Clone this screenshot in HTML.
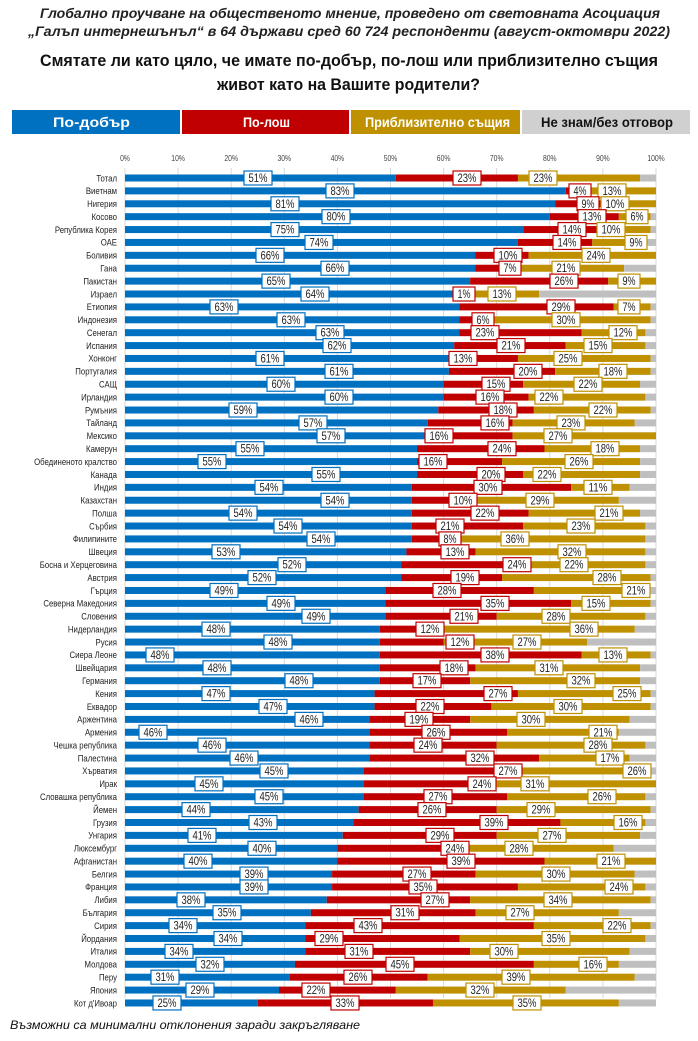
<!DOCTYPE html>
<html><head><meta charset="utf-8">
<style>
html,body{margin:0;padding:0;background:#fff;width:698px;height:1041px;overflow:hidden}
svg{display:block}
text{font-family:"Liberation Sans Narrow","Liberation Sans","DejaVu Sans Condensed",sans-serif}
</style></head><body>
<svg id="s" width="698" height="1041" viewBox="0 0 698 1041" xmlns="http://www.w3.org/2000/svg">
<text x="40" y="18" textLength="620" lengthAdjust="spacingAndGlyphs" font-size="14" font-weight="bold" font-style="italic" fill="#222">Глобално проучване на общественото мнение, проведено от световната Асоциация</text>
<text x="28" y="36" textLength="642" lengthAdjust="spacingAndGlyphs" font-size="14" font-weight="bold" font-style="italic" fill="#222">„Галъп интернешънъл“ в 64 държави сред 60 724 респонденти (август-октомври 2022)</text>
<text x="40" y="66" textLength="618" lengthAdjust="spacingAndGlyphs" font-size="17" font-weight="bold" fill="#111">Смятате ли като цяло, че имате по-добър, по-лош или приблизително същия</text>
<text x="217" y="90" textLength="263" lengthAdjust="spacingAndGlyphs" font-size="17" font-weight="bold" fill="#111">живот като на Вашите родители?</text>
<rect x="12" y="110" width="168" height="24" fill="#0070c0"/>
<rect x="182" y="110" width="167" height="24" fill="#c00000"/>
<rect x="351" y="110" width="169" height="24" fill="#bf9000"/>
<rect x="522" y="110" width="168" height="24" fill="#d0d0d0"/>
<text x="53" y="127" textLength="77" lengthAdjust="spacingAndGlyphs" font-size="14" font-weight="bold" fill="#fff">По-добър</text>
<text x="243" y="127" textLength="47" lengthAdjust="spacingAndGlyphs" font-size="14" font-weight="bold" fill="#fff">По-лош</text>
<text x="365" y="127" textLength="145" lengthAdjust="spacingAndGlyphs" font-size="14" font-weight="bold" fill="#fff">Приблизително същия</text>
<text x="541" y="127" textLength="132" lengthAdjust="spacingAndGlyphs" font-size="14" font-weight="bold" fill="#111">Не знам/без отговор</text>
<text x="10" y="1029" textLength="350" lengthAdjust="spacingAndGlyphs" font-size="12" font-style="italic" fill="#111">Възможни са минимални отклонения заради закръгляване</text>
<g id="g"></g>
</svg>
<script>
var D=[
["Тотал",51,23,23,258,467,543],["Виетнам",83,4,13,340,580,612],["Нигерия",81,9,10,285,588,615],["Косово",80,13,6,336,592,637],
["Република Корея",75,14,10,285,572,611],["ОАЕ",74,14,9,319,567,636],["Боливия",66,10,24,270,508,596],["Гана",66,7,21,335,510,566],
["Пакистан",65,26,9,276,564,629],["Израел",64,1,13,315,464,502],["Етиопия",63,29,7,224,561,629],["Индонезия",63,6,30,291,483,566],
["Сенегал",63,23,12,330,485,623],["Испания",62,21,15,337,511,598],["Хонконг",61,13,25,270,463,568],["Португалия",61,20,18,339,528,613],
["САЩ",60,15,22,281,496,588],["Ирландия",60,16,22,339,490,549],["Румъния",59,18,22,243,503,603],["Тайланд",57,16,23,313,495,571],
["Мексико",57,16,27,331,439,558],["Камерун",55,24,18,250,502,605],["Обединеното кралство",55,16,26,212,433,579],["Канада",55,20,22,326,491,547],
["Индия",54,30,11,269,488,598],["Казахстан",54,10,29,335,463,540],["Полша",54,22,21,243,485,609],["Сърбия",54,21,23,288,450,581],
["Филипините",54,8,36,321,450,515],["Швеция",53,13,32,226,455,572],["Босна и Херцеговина",52,24,22,292,517,574],["Австрия",52,19,28,262,465,607],
["Гърция",49,28,21,224,447,636],["Северна Македония",49,35,15,281,495,596],["Словения",49,21,28,316,464,556],["Нидерландия",48,12,36,216,430,584],
["Русия",48,12,27,278,460,527],["Сиера Леоне",48,38,13,160,495,613],["Швейцария",48,18,31,217,454,549],["Германия",48,17,32,299,427,581],
["Кения",47,27,25,216,498,627],["Еквадор",47,22,30,273,430,568],["Аржентина",46,19,30,309,419,531],["Армения",46,26,21,153,436,603],
["Чешка република",46,24,28,212,428,598],["Палестина",46,32,17,244,480,610],["Хърватия",45,27,26,274,508,637],["Ирак",45,24,31,209,482,535],
["Словашка република",45,27,26,269,438,602],["Йемен",44,26,29,196,432,541],["Грузия",43,39,16,263,494,628],["Унгария",41,29,27,202,440,552],
["Люксембург",40,24,28,262,455,519],["Афганистан",40,39,21,198,461,611],["Белгия",39,27,30,254,417,556],["Франция",39,35,24,254,423,619],
["Либия",38,27,34,191,435,558],["България",35,31,27,227,405,520],["Сирия",34,43,22,183,368,617],["Йордания",34,29,35,228,329,556],
["Италия",34,31,30,179,359,504],["Молдова",32,45,16,210,400,593],["Перу",31,26,39,165,358,516],["Япония",29,22,32,200,316,480],
["Кот д'Ивоар",25,33,35,167,345,527]];
var x0=125,sc=5.31,y0=178,p=12.89,h="";
for(var t=0;t<=10;t++){var x=x0+t*10*sc;h+='<line x1="'+x+'" y1="168" x2="'+x+'" y2="998" stroke="#d9d9d9" stroke-width="1"/>';
h+='<text x="'+x+'" y="161" text-anchor="middle" font-size="8" fill="#444" transform="translate('+x+',0) scale(0.85,1) translate('+(-x)+',0)">'+(t*10)+'%</text>';}
var C=["#0070c0","#c00000","#bf9000","#bfbfbf"];
var lab="";
D.forEach(function(r,i){var y=y0+i*p;
h+='<text x="117" y="'+(y+3.3)+'" text-anchor="end" font-size="9.5" fill="#222" transform="translate(117,0) scale(0.82,1) translate(-117,0)">'+r[0]+'</text>';
var v=[r[1],r[2],r[3],Math.max(0,100-r[1]-r[2]-r[3])],cx=x0;
for(var k=0;k<4;k++){var w=v[k]*sc;if(w>0)h+='<rect x="'+cx+'" y="'+(y-3.5)+'" width="'+w+'" height="7" fill="'+C[k]+'"/>';cx+=w;}
for(var k=0;k<3;k++){var s=v[k]+'%',bw=s.length>2?28:22,tw=s.length>2?19:13,lx=r[4+k];
lab+='<rect x="'+(lx-bw/2)+'" y="'+(y-7)+'" width="'+bw+'" height="14" fill="#fff" stroke="'+C[k]+'" stroke-width="1.2"/>';
lab+='<text x="'+(lx-tw/2)+'" y="'+(y+4)+'" textLength="'+tw+'" lengthAdjust="spacingAndGlyphs" font-size="11.5" fill="#222">'+s+'</text>';}
});
document.getElementById("g").innerHTML=h+lab;
</script>
</body></html>
